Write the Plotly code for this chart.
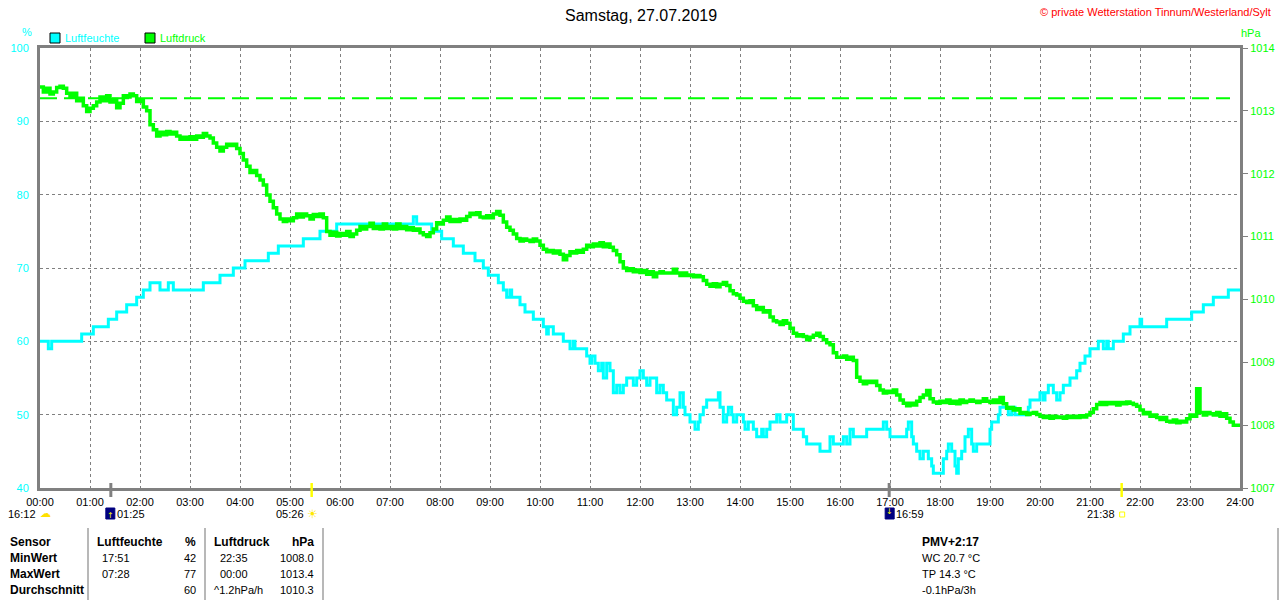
import plotly.graph_objects as go

# ---------------- data ----------------
tick_minutes = [0, 60, 120, 180, 240, 300, 360, 420, 480, 540, 600, 660, 720,
                780, 840, 900, 960, 1020, 1080, 1140, 1200, 1260, 1320, 1380, 1440]
tick_labels = ["00:00", "01:00", "02:00", "03:00", "04:00", "05:00", "06:00", "07:00",
               "08:00", "09:00", "10:00", "11:00", "12:00", "13:00", "14:00", "15:00",
               "16:00", "17:00", "18:00", "19:00", "20:00", "21:00", "22:00", "23:00", "24:00"]

hum_ticks = [40, 50, 60, 70, 80, 90, 100]
press_ticks = [1007, 1008, 1009, 1010, 1011, 1012, 1013, 1014]

# Luftfeuchte (%) - change points (minute of day, value)
humidity_minutes = [0, 10, 14, 50, 64, 82, 92, 104, 116, 124, 132, 144, 154, 160, 196, 216, 232, 246,
                    274, 286, 316, 336, 356, 448, 452, 470, 482, 496, 508, 522, 532, 538, 550, 556,
                    560, 564, 566, 576, 582, 592, 604, 608, 610, 616, 628, 636, 640, 642, 656, 660,
                    662, 666, 670, 674, 676, 680, 684, 688, 692, 696, 700, 704, 712, 716, 720, 724,
                    728, 732, 740, 744, 748, 752, 760, 764, 768, 772, 774, 780, 786, 790, 792, 796,
                    800, 814, 816, 820, 824, 826, 830, 832, 836, 844, 846, 850, 856, 860, 866, 868,
                    872, 876, 884, 888, 896, 904, 916, 920, 936, 948, 952, 964, 968, 972, 976, 992,
                    1012, 1016, 1020, 1040, 1042, 1046, 1048, 1052, 1056, 1060, 1066, 1070, 1072,
                    1084, 1088, 1090, 1094, 1098, 1100, 1102, 1106, 1110, 1114, 1118, 1120, 1124,
                    1140, 1142, 1150, 1152, 1162, 1166, 1170, 1186, 1188, 1200, 1204, 1206, 1210,
                    1216, 1220, 1224, 1228, 1236, 1244, 1248, 1254, 1260, 1270, 1276, 1280, 1282,
                    1288, 1300, 1308, 1320, 1322, 1352, 1382, 1396, 1408, 1426, 1440]
humidity_pct = [60, 59, 60, 61, 62, 63, 64, 65, 66, 67, 68, 67, 68, 67, 68, 69, 70, 71,
                72, 73, 74, 75, 76, 77, 76, 75, 74, 73, 72, 71, 70, 69, 68, 67,
                66, 67, 66, 65, 64, 63, 62, 61, 62, 61, 60, 59, 60, 59, 58, 57,
                58, 57, 56, 57, 55, 57, 56, 53, 54, 53, 54, 55, 54, 55, 56, 55,
                54, 55, 53, 54, 53, 52, 50, 51, 53, 51, 50, 49, 48, 49, 50, 51,
                52, 53, 51, 49, 50, 51, 50, 49, 50, 49, 48, 49, 48, 47, 48, 47,
                48, 49, 50, 49, 50, 48, 47, 46, 45, 47, 46, 47, 46, 48, 47, 48,
                49, 48, 47, 48, 49, 47, 46, 45, 44, 45, 44, 43, 42,
                44, 45, 46, 45, 43, 42, 44, 45, 47, 48, 46, 45, 46,
                48, 49, 50, 51, 50, 51, 50, 51, 52, 53, 52, 53, 54,
                53, 52, 53, 54, 55, 56, 57, 58, 59, 60, 59, 60, 59,
                60, 61, 62, 63, 62, 63, 64, 65, 66, 67, 67]

# Luftdruck (hPa) - sampled every 4 minutes, 00:00 .. 24:00
pressure_minutes = list(range(0, 1441, 4))
pressure_hpa = [
    1013.38, 1013.30, 1013.36, 1013.27, 1013.30, 1013.37, 1013.39, 1013.36, 1013.28, 1013.22, 1013.28, 1013.16, 1013.20, 1013.08, 1012.99,
    1013.04, 1013.08, 1013.14, 1013.22, 1013.16, 1013.24, 1013.14, 1013.18, 1013.05, 1013.12, 1013.24, 1013.22, 1013.27, 1013.24, 1013.15,
    1013.16, 1013.06, 1013.00, 1012.78, 1012.70, 1012.60, 1012.66, 1012.62, 1012.67, 1012.63, 1012.66, 1012.60, 1012.55, 1012.58, 1012.55,
    1012.59, 1012.55, 1012.60, 1012.58, 1012.64, 1012.60, 1012.57, 1012.49, 1012.42, 1012.36, 1012.42, 1012.47, 1012.45, 1012.47, 1012.40,
    1012.32, 1012.22, 1012.12, 1012.02, 1012.05, 1011.97, 1011.90, 1011.82, 1011.66, 1011.56, 1011.46, 1011.36, 1011.28, 1011.24, 1011.28,
    1011.25, 1011.30, 1011.36, 1011.31, 1011.36, 1011.33, 1011.28, 1011.35, 1011.32, 1011.36, 1011.30, 1011.08, 1011.02, 1011.07, 1011.01,
    1011.05, 1011.02, 1011.08, 1011.00, 1011.04, 1011.10, 1011.16, 1011.12, 1011.16, 1011.21, 1011.13, 1011.16, 1011.12, 1011.20, 1011.13,
    1011.16, 1011.12, 1011.20, 1011.13, 1011.16, 1011.11, 1011.14, 1011.10, 1011.12, 1011.06, 1011.03, 1011.00, 1011.06, 1011.12, 1011.22,
    1011.20, 1011.26, 1011.31, 1011.24, 1011.27, 1011.24, 1011.28, 1011.26, 1011.32, 1011.37, 1011.35, 1011.38, 1011.31, 1011.30, 1011.33,
    1011.30, 1011.36, 1011.40, 1011.34, 1011.23, 1011.15, 1011.10, 1011.04, 1010.97, 1010.93, 1010.96, 1010.94, 1010.92, 1010.96, 1010.93,
    1010.86, 1010.80, 1010.76, 1010.78, 1010.74, 1010.77, 1010.72, 1010.63, 1010.70, 1010.76, 1010.74, 1010.78, 1010.75, 1010.80, 1010.86,
    1010.84, 1010.88, 1010.85, 1010.90, 1010.84, 1010.88, 1010.83, 1010.78, 1010.71, 1010.60, 1010.50, 1010.46, 1010.49, 1010.44, 1010.47,
    1010.43, 1010.46, 1010.40, 1010.44, 1010.36, 1010.42, 1010.44, 1010.42, 1010.42, 1010.42, 1010.48, 1010.42, 1010.38, 1010.42, 1010.38,
    1010.39, 1010.36, 1010.38, 1010.36, 1010.30, 1010.24, 1010.21, 1010.25, 1010.20, 1010.24, 1010.27, 1010.22, 1010.14, 1010.09, 1010.07,
    1010.02, 1009.97, 1009.95, 1009.98, 1009.90, 1009.84, 1009.87, 1009.80, 1009.82, 1009.72, 1009.66, 1009.64, 1009.60, 1009.66, 1009.62,
    1009.54, 1009.46, 1009.42, 1009.44, 1009.41, 1009.36, 1009.40, 1009.43, 1009.46, 1009.41, 1009.36, 1009.31, 1009.28, 1009.15, 1009.08,
    1009.08, 1009.10, 1009.05, 1009.08, 1009.03, 1008.76, 1008.70, 1008.66, 1008.70, 1008.68, 1008.70, 1008.63, 1008.56, 1008.51, 1008.54,
    1008.52, 1008.56, 1008.48, 1008.40, 1008.35, 1008.31, 1008.35, 1008.32, 1008.38, 1008.44, 1008.48, 1008.55, 1008.42, 1008.37, 1008.35,
    1008.38, 1008.36, 1008.40, 1008.35, 1008.38, 1008.34, 1008.40, 1008.36, 1008.38, 1008.40, 1008.38, 1008.36, 1008.38, 1008.42, 1008.38,
    1008.36, 1008.40, 1008.36, 1008.44, 1008.34, 1008.27, 1008.28, 1008.24, 1008.26, 1008.19, 1008.20, 1008.17, 1008.19, 1008.20, 1008.17,
    1008.14, 1008.12, 1008.14, 1008.11, 1008.14, 1008.12, 1008.13, 1008.11, 1008.14, 1008.12, 1008.14, 1008.12, 1008.15, 1008.13, 1008.16,
    1008.20, 1008.26, 1008.33, 1008.36, 1008.33, 1008.36, 1008.34, 1008.36, 1008.32, 1008.36, 1008.34, 1008.37, 1008.35, 1008.33, 1008.30,
    1008.24, 1008.18, 1008.20, 1008.14, 1008.16, 1008.12, 1008.09, 1008.12, 1008.06, 1008.05, 1008.08, 1008.04, 1008.06, 1008.05, 1008.10,
    1008.16, 1008.14, 1008.58, 1008.20, 1008.16, 1008.20, 1008.18, 1008.16, 1008.20, 1008.14, 1008.18, 1008.11, 1008.05, 1008.00, 1008.00,
    1008.00]

# reference line (hPa) and its extent (minutes)
ref_pressure = 1013.2
ref_minutes = [0, 1428]

# astro markers: (minute, label)
moonrise = (85, "01:25")
sunrise = (326, "05:26")
moonset = (1019, "16:59")
sunset = (1298, "21:38")
moon_label = "16:12"

# statistics table
stats_rows = ["Sensor", "MinWert", "MaxWert", "Durchschnitt"]
hum_col_time = ["", "17:51", "07:28", ""]
hum_col_val = ["%", "42", "77", "60"]
press_col_time = ["", "22:35", "00:00", "^1.2hPa/h"]
press_col_val = ["hPa", "1008.0", "1013.4", "1010.3"]
extra_lines = ["PMV+2:17", "WC 20.7 °C", "TP 14.3 °C", "-0.1hPa/3h"]

# ---------------- style ----------------
CYAN = "#00FFFF"
GREEN = "#00FF00"
GRAY = "#808080"
FONT = "Liberation Sans"
W, H = 1280, 600
L, R, T, B = 40, 1240, 48, 488


def PX(px):
    return (px - L) / (R - L)


def PY(py):
    return (B - py) / (B - T)


fig = go.Figure()

fig.add_trace(go.Scatter(x=ref_minutes, y=[ref_pressure, ref_pressure], yaxis="y2", mode="lines",
                         line=dict(color=GREEN, width=2, dash="17px,7px"), hoverinfo="skip",
                         showlegend=False))
fig.add_trace(go.Scatter(x=pressure_minutes, y=pressure_hpa, yaxis="y2", mode="lines",
                         name="Luftdruck", line=dict(color=GREEN, width=3.5, shape="hv")))
fig.add_trace(go.Scatter(x=humidity_minutes, y=humidity_pct, yaxis="y", mode="lines",
                         name="Luftfeuchte", line=dict(color=CYAN, width=3, shape="hv")))

grid = dict(showgrid=True, gridcolor=GRAY, gridwidth=1, griddash="3px,3px")
frame = dict(showline=True, linecolor=GRAY, linewidth=3, mirror=True, zeroline=False)

fig.update_layout(
    width=W, height=H,
    margin=dict(l=L, r=W - R, t=T, b=H - B, autoexpand=False),
    paper_bgcolor="white", plot_bgcolor="white",
    showlegend=False,
    font=dict(family=FONT, size=11, color="black"),
    xaxis=dict(range=[0, 1440], tickvals=tick_minutes, ticktext=tick_labels, ticks="",
               tickfont=dict(size=11, color="black", family=FONT), ticklabelstandoff=2,
               **grid, **frame),
    yaxis=dict(range=[40, 100], tickvals=hum_ticks, ticks="",
               tickfont=dict(size=11, color=CYAN, family=FONT), ticklabelstandoff=6,
               **grid, **frame),
    yaxis2=dict(range=[1007, 1014], tickvals=press_ticks, overlaying="y", side="right",
                showgrid=False, ticks="outside", ticklen=5, tickcolor=GRAY, tickwidth=1,
                tickfont=dict(size=11, color=GREEN, family=FONT),
                showline=True, linecolor=GRAY, linewidth=3, zeroline=False),
)

annotations = []
shapes = []


def ann(text, px, py, color="black", size=11, xanchor="left", family=FONT):
    annotations.append(dict(text=text, x=PX(px), y=PY(py), xref="paper", yref="paper",
                            showarrow=False, xanchor=xanchor, yanchor="middle",
                            font=dict(family=family, size=size, color=color)))


def rect(x0, y0, x1, y1, fill, line="black", lw=1):
    shapes.append(dict(type="rect", xref="paper", yref="paper", x0=PX(x0), x1=PX(x1),
                       y0=PY(y0), y1=PY(y1), fillcolor=fill,
                       line=dict(color=line, width=lw), layer="above"))


def vline(px, y0, y1, color, width):
    shapes.append(dict(type="line", xref="paper", yref="paper", x0=PX(px), x1=PX(px),
                       y0=PY(y0), y1=PY(y1), line=dict(color=color, width=width), layer="above"))


def minute_px(m):
    return L + (R - L) * m / 1440


# header
ann("Samstag, 27.07.2019", 641, 15, size=16, xanchor="center")
ann("© private Wetterstation Tinnum/Westerland/Sylt", 1273, 12, color="#FF0000", size=11,
    xanchor="right")
ann("%", 27, 32, color=CYAN, xanchor="center")
ann("hPa", 1239, 33, color=GREEN)

# legend
rect(50, 33, 60, 43, CYAN)
ann("Luftfeuchte", 63, 38, color=CYAN)
rect(145, 33, 155, 43, GREEN)
ann("Luftdruck", 158, 38, color=GREEN)

# astro markers
for m, col, wd in [(moonrise[0], GRAY, 3), (moonset[0], GRAY, 3),
                   (sunrise[0], "#FFFF00", 2.5), (sunset[0], "#FFFF00", 2.5)]:
    vline(minute_px(m), 483, 497, col, wd)

ann(moon_label, 38, 514, xanchor="right")
ann("☁", 45, 513, color="#FFE000", size=11, xanchor="center", family="DejaVu Sans")

mx = minute_px(moonrise[0])
rect(mx - 5, 508, mx + 4, 519, "#000080", line="#000080")
ann("↑", mx, 515, color="#FFFF00", size=8, xanchor="center", family="DejaVu Sans")
ann(moonrise[1], mx + 4, 514)

sx = minute_px(sunrise[0])
ann(sunrise[1], sx - 6, 514, xanchor="right")
ann("☀", sx + 1, 514, color="#FFE800", size=12, xanchor="center", family="DejaVu Sans")

mx2 = minute_px(moonset[0])
rect(mx2 - 4, 508, mx2 + 5, 519, "#000080", line="#000080")
ann("↓", mx2, 512, color="#FFFF00", size=8, xanchor="center", family="DejaVu Sans")
ann(moonset[1], mx2 + 5, 514)

ssx = minute_px(sunset[0])
ann(sunset[1], ssx - 5, 514, xanchor="right")
rect(ssx - 2, 512, ssx + 3, 517, "rgba(0,0,0,0)", line="#FFFF00", lw=1)

# statistics table
row_y = [542, 558, 574, 590]
for i, y in enumerate(row_y):
    ann("<b>%s</b>" % stats_rows[i], 8, y, size=12)
    if i == 0:
        ann("<b>Luftfeuchte</b>", 95, y, size=12)
        ann("<b>%s</b>" % hum_col_val[i], 198, y, size=12, xanchor="right")
        ann("<b>Luftdruck</b>", 212, y, size=12)
        ann("<b>%s</b>" % press_col_val[i], 316, y, size=12, xanchor="right")
        ann("<b>%s</b>" % extra_lines[i], 920, y, size=12)
    else:
        ann(hum_col_time[i], 100, y)
        ann(hum_col_val[i], 198, y, xanchor="right")
        ann(press_col_time[i], 218 if i < 3 else 212, y)
        ann(press_col_val[i], 316, y, xanchor="right")
        ann(extra_lines[i], 920, y)

for px in [88, 205, 323, 1278]:
    vline(px, 528, 600, "#A0A0A0", 1.5)

fig.update_layout(annotations=annotations, shapes=shapes)

fig.write_html("out.html", config={"displayModeBar": False},
               post_script="document.body.style.margin='0';document.body.style.overflow='hidden';")
